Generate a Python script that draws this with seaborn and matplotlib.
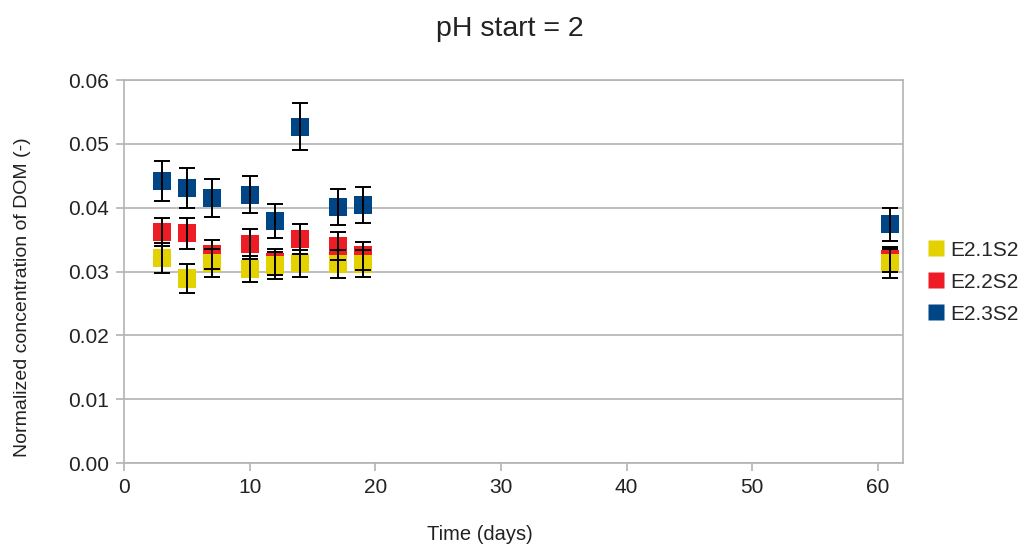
import matplotlib
matplotlib.use("Agg")
import matplotlib.pyplot as plt
import seaborn as sns
import pandas as pd
from matplotlib.lines import Line2D

# Sampling days and normalized DOM concentrations (with standard deviations)
days = [3, 5, 7, 10, 12, 14, 17, 19, 61]
series_names = ["E2.1S2", "E2.2S2", "E2.3S2"]

e21_mean = [0.0321, 0.0289, 0.0314, 0.0304, 0.0310, 0.0313, 0.0312, 0.0312, 0.0313]
e21_err = [0.0023, 0.0022, 0.0022, 0.0021, 0.0021, 0.0021, 0.0022, 0.0021, 0.0023]

e22_mean = [0.0362, 0.0360, 0.0327, 0.0343, 0.0315, 0.0351, 0.0340, 0.0325, 0.0319]
e22_err = [0.0022, 0.0024, 0.0023, 0.0023, 0.0020, 0.0023, 0.0022, 0.0022, 0.0020]

e23_mean = [0.0442, 0.0431, 0.0415, 0.0420, 0.0379, 0.0527, 0.0401, 0.0404, 0.0374]
e23_err = [0.0031, 0.0031, 0.0030, 0.0029, 0.0026, 0.0037, 0.0028, 0.0028, 0.0026]

colors = {"E2.1S2": "#e3d200", "E2.2S2": "#ee1c25", "E2.3S2": "#004586"}

means = {"E2.1S2": e21_mean, "E2.2S2": e22_mean, "E2.3S2": e23_mean}
errs = {"E2.1S2": e21_err, "E2.2S2": e22_err, "E2.3S2": e23_err}

# Long table; the last series goes first so the first series is drawn on top
rows = []
for name in reversed(series_names):
    for d, m, e in zip(days, means[name], errs[name]):
        rows.append({"day": d, "conc": m, "err": e, "series": name})
df = pd.DataFrame(rows)

sns.set_style("white")
plt.rcParams["font.family"] = ["Liberation Sans", "DejaVu Sans"]

text_color = "#222222"

fig = plt.figure(figsize=(10.30, 5.51), dpi=100)
ax = fig.add_axes([0.1204, 0.1597, 0.7563, 0.6951])

sns.scatterplot(data=df, x="day", y="conc", hue="series", hue_order=series_names,
                palette=colors, marker="s", s=170, edgecolor="none", linewidth=0,
                legend=False, ax=ax, zorder=3)

for name in reversed(series_names):
    sub = df[df["series"] == name]
    ax.errorbar(sub["day"], sub["conc"], yerr=sub["err"], fmt="none",
                ecolor="black", elinewidth=1.4, capsize=5.5, capthick=1.4, zorder=4)

ax.set_xlim(0, 62)
ax.set_ylim(0, 0.06)
ax.set_xticks(range(0, 61, 10))
ax.set_yticks([i / 100 for i in range(0, 7)])
ax.set_yticklabels([f"{i / 100:.2f}" for i in range(0, 7)])

ax.yaxis.grid(True, color="#b3b3b3", linewidth=1.2)
ax.xaxis.grid(False)
ax.set_axisbelow(True)
for sp in ax.spines.values():
    sp.set_color("#b3b3b3")
    sp.set_linewidth(1.2)

ax.tick_params(axis="both", which="both", length=6, width=1.2, color="#b3b3b3",
               labelsize=15, labelcolor=text_color, direction="out",
               bottom=True, left=True)
ax.tick_params(axis="x", pad=5)
ax.tick_params(axis="y", pad=5)

ax.set_xlabel("Time (days)", fontsize=14.5, color=text_color)
ax.set_ylabel("Normalized concentration of DOM (-)", fontsize=14, color=text_color)
ax.xaxis.set_label_coords(0.457, -0.163)
ax.yaxis.set_label_coords(-0.12, 0.433)
fig.text(0.495, 0.948, "pH start = 2", fontsize=20.5, color=text_color,
         ha="center", va="center")

handles = [Line2D([0], [0], marker="s", linestyle="none", markersize=11.5,
                  markerfacecolor=colors[n], markeredgecolor="none") for n in series_names]
fig.legend(handles, series_names, loc="center left", bbox_to_anchor=(0.893, 0.488),
           frameon=False, fontsize=15, handletextpad=0.25, labelspacing=0.62,
           handlelength=0.8, borderaxespad=0)

fig.savefig("out.png", dpi=100)
